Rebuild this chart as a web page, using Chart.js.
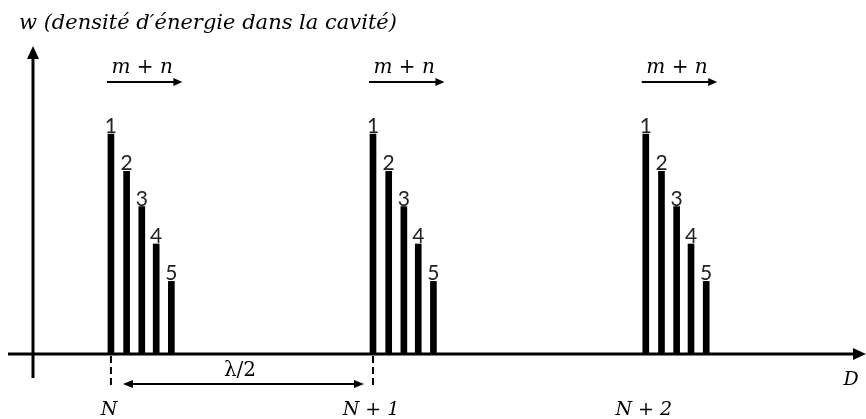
<!DOCTYPE html>
<html>
<head>
<meta charset="utf-8">
<script src="https://cdn.jsdelivr.net/npm/chart.js@4"></script>
<style>
  html, body { margin: 0; padding: 0; background: #ffffff; }
  #cavite { display: block; }
</style>
</head>
<body>
<canvas id="cavite" width="866" height="419"></canvas>
<script>
// Ordres d'interférence (positions en unités de λ/2 le long de D)
const ordres = ["N", "N + 1", "N + 2"];
const positionsOrdres = [0.298, 1.3, 2.343];

// Modes transverses m + n dans chaque paquet
const modes = ["1", "2", "3", "4", "5"];
const decalagesModes = [0, 0.06, 0.118, 0.173, 0.231];
const densites = [1, 0.83, 0.67, 0.5, 0.33];

const titreY = "w (densité d′énergie dans la cavité)";
const titreX = "D";
const etiquetteModes = "m + n";
const etiquetteDemiLambda = "λ/2";

const xMax = 3.185;
const yMax = 1.4;

const SERIF = '"DejaVu Serif", "Liberation Serif", serif';

// Points des barres construits à partir des tableaux
const points = [];
positionsOrdres.forEach((p, i) => {
  modes.forEach((m, j) => {
    points.push({ x: p + decalagesModes[j], y: densites[j], mode: m, ordre: i });
  });
});

// Flèche simple
function fleche(ctx, x1, y1, x2, y2, taille, demi) {
  const ang = Math.atan2(y2 - y1, x2 - x1);
  ctx.beginPath();
  ctx.moveTo(x1, y1);
  ctx.lineTo(x2 - Math.cos(ang) * taille * 0.8, y2 - Math.sin(ang) * taille * 0.8);
  ctx.stroke();
  ctx.beginPath();
  ctx.moveTo(x2, y2);
  ctx.lineTo(x2 - Math.cos(ang) * taille + Math.sin(ang) * demi, y2 - Math.sin(ang) * taille - Math.cos(ang) * demi);
  ctx.lineTo(x2 - Math.cos(ang) * taille - Math.sin(ang) * demi, y2 - Math.sin(ang) * taille + Math.cos(ang) * demi);
  ctx.closePath();
  ctx.fill();
}

const schema = {
  id: "schema",
  afterDraw(chart) {
    const ctx = chart.ctx;
    const xs = chart.scales.x;
    const ys = chart.scales.y;
    const area = chart.chartArea;
    const x0 = area.left;
    const y0 = ys.getPixelForValue(0);
    ctx.save();
    ctx.strokeStyle = "#000";
    ctx.fillStyle = "#000";

    // Axes
    ctx.lineWidth = 3;
    ctx.beginPath();
    ctx.moveTo(x0, y0 + 24);
    ctx.lineTo(x0, area.top + 10);
    ctx.stroke();
    ctx.beginPath();
    ctx.moveTo(x0, area.top);
    ctx.lineTo(x0 - 6, area.top + 13);
    ctx.lineTo(x0 + 6, area.top + 13);
    ctx.closePath();
    ctx.fill();

    ctx.beginPath();
    ctx.moveTo(8, y0);
    ctx.lineTo(area.right - 10, y0);
    ctx.stroke();
    ctx.beginPath();
    ctx.moveTo(area.right, y0);
    ctx.lineTo(area.right - 13, y0 - 6);
    ctx.lineTo(area.right - 13, y0 + 6);
    ctx.closePath();
    ctx.fill();

    // Numéros des modes au-dessus des barres
    const meta = chart.getDatasetMeta(0);
    ctx.font = '21px Lato, sans-serif';
    ctx.fillStyle = "#222";
    ctx.textAlign = "center";
    ctx.textBaseline = "alphabetic";
    meta.data.forEach((el, k) => {
      ctx.fillText(points[k].mode, el.x, el.y - 1);
    });
    ctx.fillStyle = "#000";

    // m + n avec flèche au-dessus de chaque paquet
    ordres.forEach((o, i) => {
      const premier = meta.data[i * modes.length];
      const dernier = meta.data[i * modes.length + modes.length - 1];
      ctx.font = 'italic 20px ' + SERIF;
      ctx.textAlign = "center";
      ctx.fillText(etiquetteModes, (premier.x + dernier.x) / 2 + 1, 73);
      ctx.lineWidth = 2;
      fleche(ctx, premier.x - 4, 82, dernier.x + 11, 82, 9, 4);
    });

    // Pointillés sous N et N + 1
    ctx.lineWidth = 2;
    ctx.setLineDash([7, 4]);
    const pN = xs.getPixelForValue(positionsOrdres[0]);
    const pN1 = xs.getPixelForValue(positionsOrdres[1]);
    [pN, pN1].forEach(px => {
      ctx.beginPath();
      ctx.moveTo(px, y0 + 2);
      ctx.lineTo(px, y0 + 35);
      ctx.stroke();
    });
    ctx.setLineDash([]);

    // Double flèche λ/2
    const yf = y0 + 30;
    fleche(ctx, (pN + pN1) / 2, yf, pN + 12, yf, 10, 4);
    fleche(ctx, (pN + pN1) / 2, yf, pN1 - 9, yf, 10, 4);
    ctx.font = '20px ' + SERIF;
    ctx.textAlign = "center";
    ctx.fillText(etiquetteDemiLambda, (pN + pN1) / 2 - 2, y0 + 22);

    // Ordres N, N + 1, N + 2
    ctx.font = 'italic 19px ' + SERIF;
    ordres.forEach((o, i) => {
      ctx.fillText(o, xs.getPixelForValue(positionsOrdres[i]) - 2, y0 + 61);
    });

    // Nom de l'axe D
    ctx.fillText(titreX, area.right - 15, y0 + 31);

    // Titre de l'axe vertical
    ctx.font = 'italic 21px ' + SERIF;
    ctx.textAlign = "left";
    ctx.fillText(titreY, 19, 29);

    ctx.restore();
  }
};

new Chart(document.getElementById("cavite"), {
  type: "bar",
  data: {
    datasets: [{
      data: points,
      backgroundColor: "#000000",
      borderWidth: 0,
      barThickness: 6
    }]
  },
  options: {
    responsive: false,
    animation: false,
    devicePixelRatio: 1,
    layout: { padding: { left: 33, right: 0, top: 46, bottom: 65 } },
    plugins: { legend: { display: false }, tooltip: { enabled: false } },
    scales: {
      x: { type: "linear", min: 0, max: xMax, offset: false, display: false },
      y: { min: 0, max: yMax, display: false }
    }
  },
  plugins: [schema]
});
</script>
</body>
</html>
